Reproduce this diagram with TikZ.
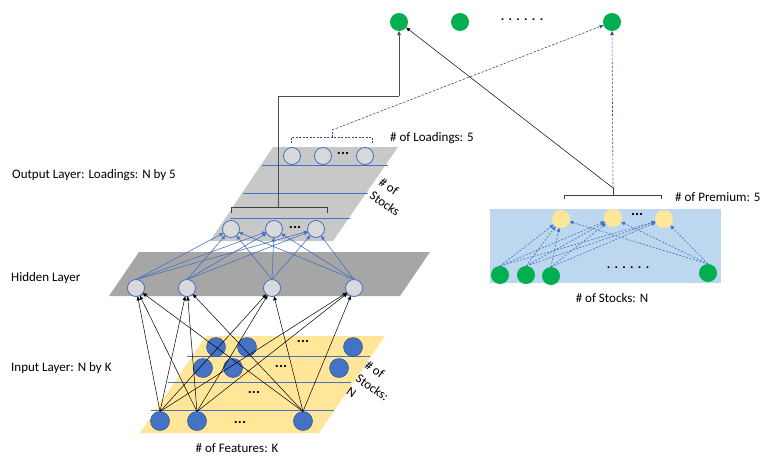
\documentclass[tikz,border=0pt]{standalone}
\usepackage{fontspec}
\setmainfont{Carlito}
\usetikzlibrary{arrows.meta}
\definecolor{pblue}{HTML}{4472C4}
\definecolor{dblue}{HTML}{2F528F}
\definecolor{nblue}{HTML}{2F4F8F}
\definecolor{pgreen}{HTML}{00B050}
\definecolor{pyellow}{HTML}{FFE699}
\definecolor{lblue}{HTML}{BDD7EE}
\definecolor{outgray}{HTML}{C8C8C8}
\definecolor{hidgray}{HTML}{A6A6A6}
\definecolor{cgray}{HTML}{D9D9D9}
\begin{document}
\begin{tikzpicture}[x=1pt,y=-1pt,
  font=\fontsize{13}{15}\selectfont,
  neuron/.style={circle, draw=pblue, fill=cgray, line width=0.8pt, minimum width=17pt, inner sep=0pt, outer sep=0pt},
  inneuron/.style={circle, draw=dblue, fill=pblue, line width=0.5pt, minimum width=19pt, inner sep=0pt, outer sep=0pt},
  gneuron/.style={circle, fill=pgreen, minimum width=18pt, inner sep=0pt, outer sep=0pt},
  yneuron/.style={circle, fill=pyellow, minimum width=18pt, inner sep=0pt, outer sep=0pt},
  tip/.style={-{Triangle[length=4pt,width=3.5pt]}},
  blackarr/.style={tip, draw=black, line width=0.5pt},
  bluearr/.style={tip, draw=pblue, fill=pblue, line width=0.5pt},
  bdash/.style={tip, draw=pblue, line width=0.6pt, dash pattern=on 2pt off 1.5pt},
  ndash/.style={tip, draw=nblue, line width=0.6pt, dash pattern=on 2.5pt off 1.5pt},
  brk/.style={draw=black!75, line width=0.8pt},
  dbrk/.style={draw=nblue, line width=0.7pt, dash pattern=on 2pt off 1.5pt},
  pline/.style={draw=pblue, line width=0.8pt},
  dots/.style={font=\bfseries\fontsize{15}{15}\selectfont, inner sep=0pt},
  lbl/.style={anchor=west, inner sep=0pt},
  rlbl/.style={align=left, inner sep=0pt, anchor=north west, rotate=-35, font=\fontsize{13}{16}\selectfont}
]
\useasboundingbox (0,0) rectangle (773,463);

% planes
\fill[pyellow] (140,433) -- (319,433) -- (385,336) -- (206,336) -- cycle;
\fill[hidgray] (109,296) -- (400,296) -- (430,252) -- (139,252) -- cycle;
\fill[outgray] (210,241) -- (333,241) -- (398,147) -- (273,147) -- cycle;
\fill[lblue] (490,209) rectangle (721,283);

% lines in planes
\draw[pline] (187,356) -- (370,356);
\draw[pline] (168,382) -- (351,382);
\draw[pline] (151,410) -- (334,410);
\draw[pline] (262,165) -- (388,165);
\draw[pline] (243,193) -- (368,193);
\draw[pline] (230,218) -- (350,218);

% top green nodes
\node[gneuron] (t1) at (399,22) {};
\node[gneuron] (t2) at (460,22) {};
\node[gneuron] (t3) at (612,22) {};
\node[inner sep=0pt] (tdots) at (522,20) {\bfseries .\,\,.\,\,.\,\,.\,\,.\,\,.};

% input nodes
\node[inneuron] (a1) at (216,347) {};
\node[inneuron] (a2) at (247,347) {};
\node[inneuron] (a3) at (353,347) {};
\node[dots] (ad) at (303,341) {...};
\node[inneuron] (b1) at (203,368) {};
\node[inneuron] (b2) at (233,368) {};
\node[inneuron] (b3) at (339,368) {};
\node[dots] (bd) at (281,366) {...};
\node[dots] (cd) at (254,392) {...};
\node[inneuron] (i1) at (160,421) {};
\node[inneuron] (i2) at (197,421) {};
\node[inneuron] (i3) at (303,421) {};
\node[dots] (id) at (240,422) {...};

% hidden nodes
\node[neuron] (h1) at (136,288) {};
\node[neuron] (h2) at (187,288) {};
\node[neuron] (h3) at (272,288) {};
\node[neuron] (h4) at (354,288) {};

% output nodes
\node[neuron] (o1) at (231,229) {};
\node[neuron] (o2) at (274,229) {};
\node[neuron] (o3) at (316,229) {};
\node[dots] (od) at (295,227) {...};
\node[neuron] (p1) at (292,156) {};
\node[neuron] (p2) at (323,156) {};
\node[neuron] (p3) at (365,156) {};
\node[dots] (pd) at (343,153) {...};

% input -> hidden
\foreach \i in {i1,i2,i3}
  \foreach \h in {h1,h2,h3,h4}
    \draw[blackarr] (\i.north) -- (\h);

% hidden -> output
\foreach \h in {h1,h2,h3,h4}
  \foreach \o in {o1,o2,o3}
    \draw[bluearr] (\h.north) -- (\o);

% right panel
\node[yneuron] (y1) at (561,219) {};
\node[yneuron] (y2) at (613,218) {};
\node[yneuron] (y3) at (664,219) {};
\node[dots] (yd) at (637,214) {...};
\node[gneuron] (g1) at (500,275) {};
\node[gneuron] (g2) at (526,275) {};
\node[gneuron] (g3) at (551,276) {};
\node[gneuron] (g4) at (708,273) {};
\node[inner sep=0pt] (gdots) at (628,268) {\bfseries .\,\,.\,\,.\,\,.\,\,.\,\,.};
\foreach \g in {g1,g2,g3,g4}
  \foreach \y in {y1,y2,y3}
    \draw[bdash] (\g.north) -- (\y);

% brackets
\draw[brk] (231,213) -- (231,207) -- (327,207) -- (327,213);
\coordinate (bc1) at (278,207);
\coordinate (k1) at (278,96);
\coordinate (k2) at (399,96);
\draw[dbrk] (291,143) -- (291,137) -- (372,137) -- (372,143);
\draw[dbrk] (332,137) -- (332,130);
\coordinate (bc2) at (332,130);
\draw[brk] (564,199) -- (564,195) -- (661,195) -- (661,199);
\draw[brk] (613,195) -- (613,188);
\coordinate (bc3) at (613,188);

% connections to top
\draw[line width=0.8pt, draw=black!70] (bc1) -- (k1) -- (k2);
\draw[blackarr, line width=0.8pt, draw=black!70] (k2) -- (t1.south);
\draw[ndash] (bc2) -- (t3);
\draw[blackarr] (bc3) -- (t1);
\draw[ndash] (bc3) -- (t3.south);

% labels
\node[lbl] (l1) at (12,175) {Output Layer: Loadings: N by 5};
\node[lbl] (l2) at (11,278) {Hidden Layer};
\node[lbl] (l3) at (11,368) {Input Layer: N by K};
\node[lbl] (l4) at (390,138) {\# of Loadings: 5};
\node[lbl] (l5) at (675,197) {\# of Premium: 5};
\node[inner sep=0pt] (l6) at (612,298) {\# of Stocks: N};
\node[inner sep=0pt] (l7) at (237,448) {\# of Features: K};
\node[rlbl] (l8) at (383,177) {\# of\\Stocks};
\node[rlbl] (l9) at (369,360) {\# of\\Stocks:\\N};
\end{tikzpicture}
\end{document}
